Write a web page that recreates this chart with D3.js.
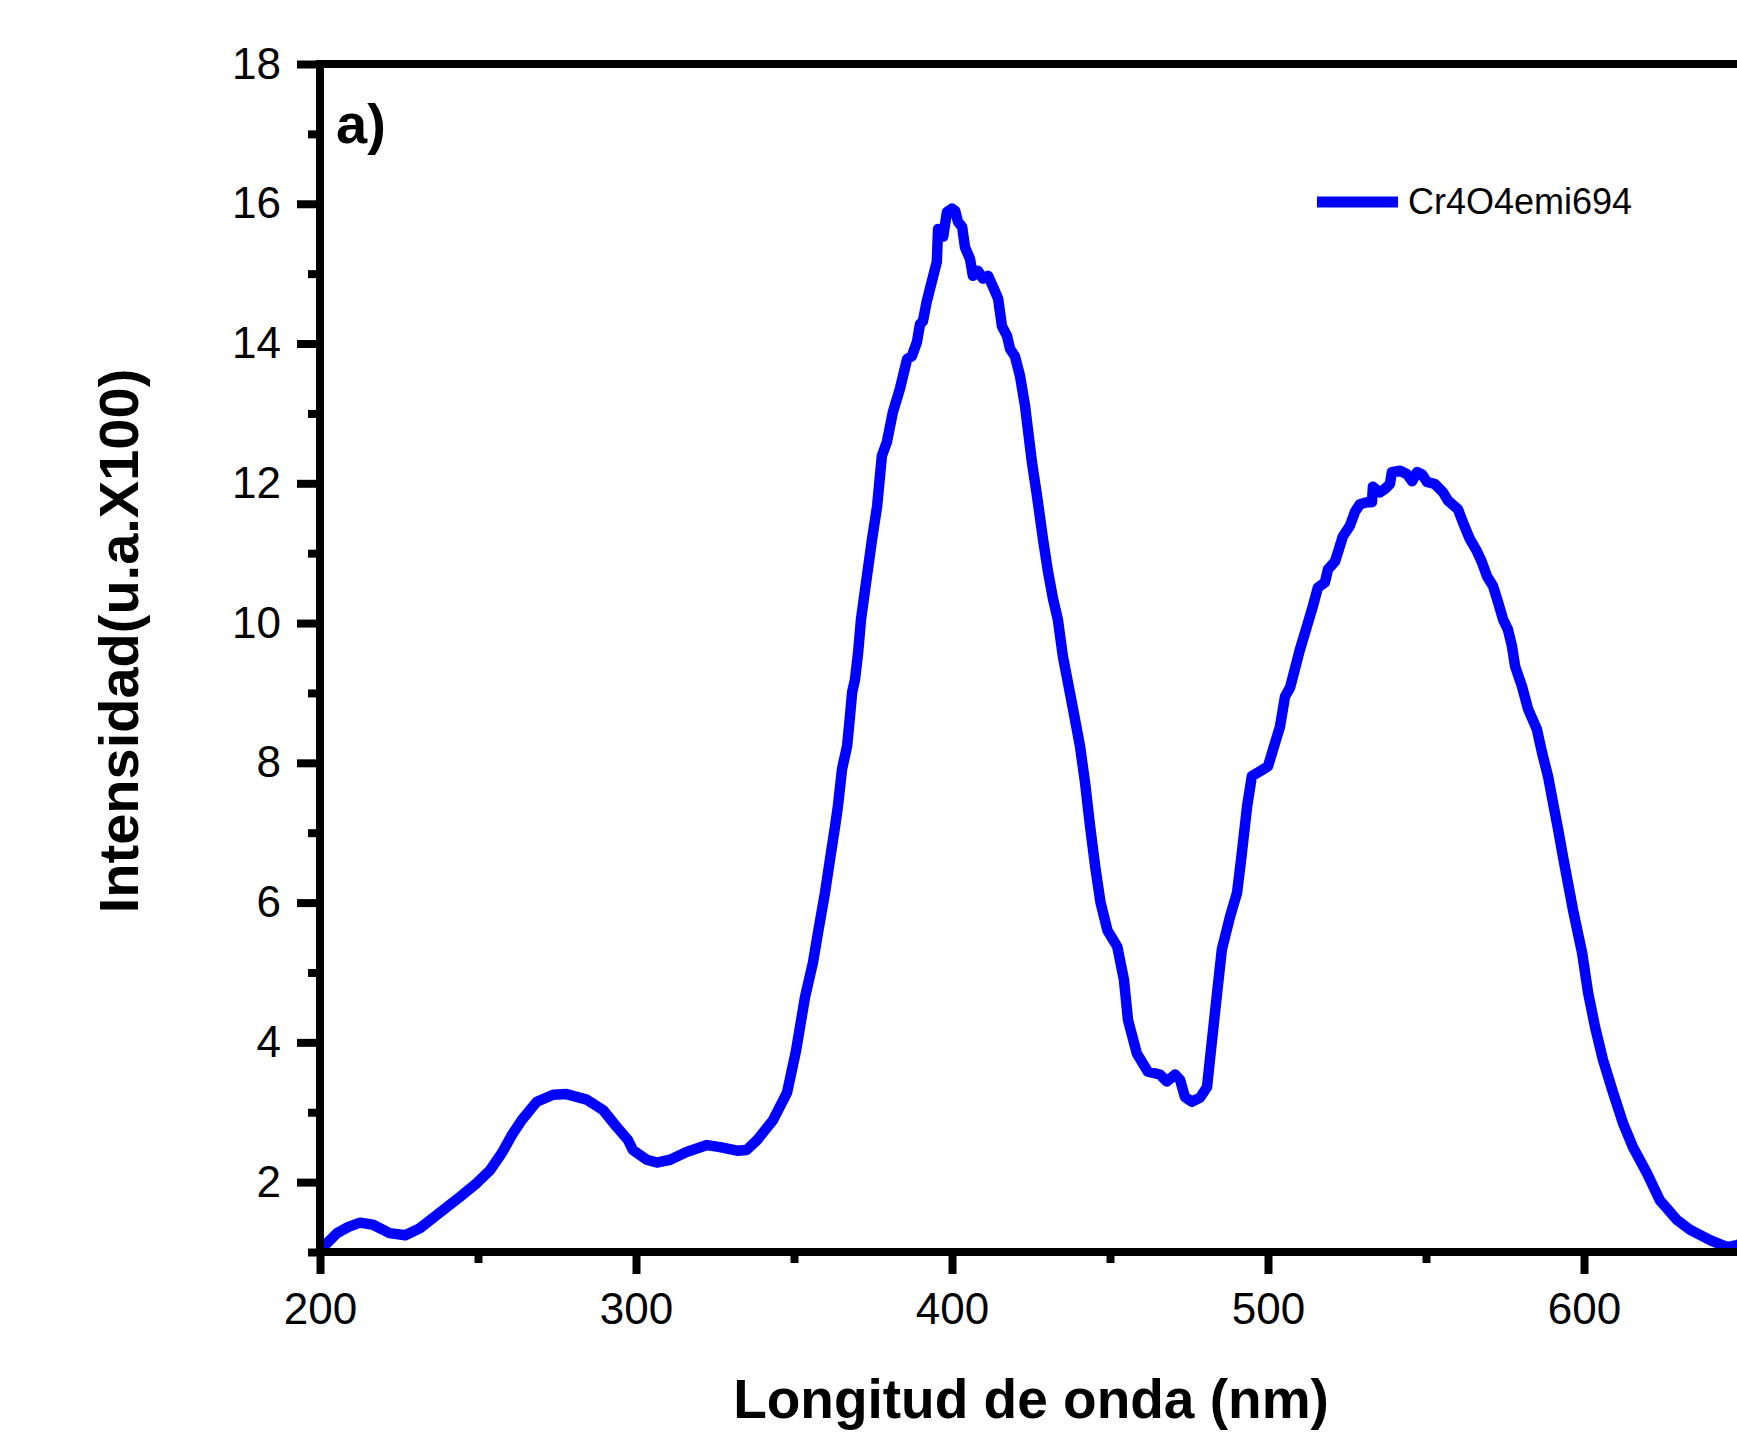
<html>
<head>
    <title>Cr4O4emi694</title>
    <script src="https://d3js.org/d3.v7.min.js"></script>
    <style>
        body { margin: 0; background: #fff; }
        svg text { font-family: "Liberation Sans", Arial, sans-serif; fill: #000; }
    </style>
</head>
<body>
<script>

    // wavelength (nm)
    var wavelength = [
        200, 201, 205.4, 209, 212.7, 216.8, 222, 227, 231.6, 237, 244.3, 249.7, 253.8, 257.6, 260.8, 263.9,
        268.6, 273.8, 278, 284.4, 289.6, 293.9, 297.5, 299, 303.4, 306.6, 310.8, 316, 322.5, 326.6, 332, 335,
        338.3, 343.4, 347.8, 350.6, 353.5, 356, 357.6, 359.8, 361.4, 363, 363.9, 365.2, 366.8, 367.7, 368.4,
        369.3, 370.3, 371.2, 372.5, 374.7, 376.3, 377.8, 379.4, 381.3, 383.5, 385.8, 387.3, 388.9, 389.9,
        390.8, 392, 395.2, 395.6, 397.2, 398.4, 400, 401, 401.9, 403.2, 404.1, 405.7, 406.6, 408.2, 409.8,
        411.4, 413, 414.6, 415.8, 417.4, 418.4, 419.9, 421.5, 423.1, 425.3, 426.9, 428.8, 430.4, 432, 433.5,
        435.1, 438.3, 440.5, 442.1, 443.7, 445.3, 447, 449.2, 452.3, 454.4, 455.7, 458.5, 462, 465.8, 468,
        470.6, 472.2, 473.7, 475.9, 478.5, 480.7, 482.3, 483.9, 485.4, 488, 490.2, 491.5, 493.4, 494.9,
        497.5, 500, 501.6, 503.8, 505.4, 507, 508.5, 510.1, 512.3, 514.2, 515.8, 518, 519, 521.2, 523.7,
        525.9, 527.5, 529.1, 531.3, 532.9, 533.2, 535.4, 537, 538.6, 539.2, 541.8, 544, 545.6, 547.2, 548.7,
        550.3, 552.8, 555.4, 557, 560.1, 561.7, 563.9, 566.1, 567.7, 569.3, 571.2, 572.8, 574.4, 575.9,
        577.2, 578.2, 580.4, 582.3, 585.1, 586.7, 588.6, 590.2, 591.8, 593.5, 596.5, 599.4, 601.3, 603.5,
        606, 609.2, 612.3, 615.5, 619.9, 624, 629.4, 633.5, 639.9, 645.3, 648.4, 650
    ];

    // intensity (u.a. x100)
    var intensity = [
        1.0, 1.07, 1.27, 1.36, 1.42, 1.39, 1.27, 1.24, 1.34, 1.53, 1.79, 1.99, 2.17, 2.42, 2.68, 2.89,
        3.15, 3.25, 3.26, 3.18, 3.03, 2.79, 2.60, 2.46, 2.32, 2.28, 2.32, 2.43, 2.53, 2.50, 2.45, 2.46,
        2.60, 2.89, 3.28, 3.87, 4.65, 5.14, 5.57, 6.14, 6.62, 7.09, 7.38, 7.91, 8.24, 8.66, 9.01,
        9.19, 9.58, 10.05, 10.48, 11.2, 11.67, 12.39, 12.59, 13.02, 13.35, 13.78, 13.82, 14.02, 14.28,
        14.32, 14.6, 15.17, 15.64, 15.53, 15.88, 15.93, 15.9, 15.74, 15.67, 15.38, 15.21, 14.97, 15.04, 14.93,
        14.97, 14.81, 14.64, 14.25, 14.11, 13.92, 13.82, 13.54, 13.11, 12.3, 11.82, 11.2, 10.73, 10.34, 10.05,
        9.52, 8.77, 8.24, 7.72, 7.09, 6.52, 6.0, 5.6, 5.37, 4.9, 4.32, 3.84, 3.58, 3.54, 3.44,
        3.54, 3.46, 3.22, 3.15, 3.21, 3.36, 4.04, 4.71, 5.33, 5.8, 6.14, 6.62, 7.38, 7.81,
        7.88, 7.95, 8.19, 8.52, 8.95, 9.08, 9.34, 9.62, 9.95, 10.24, 10.51, 10.58, 10.77, 10.88, 11.24,
        11.39, 11.59, 11.7, 11.73, 11.73, 11.95, 11.87, 11.92, 11.99, 12.16, 12.18, 12.13, 12.03, 12.16, 12.13,
        12.02, 11.99, 11.87, 11.75, 11.63, 11.44, 11.2, 11.03, 10.87, 10.67, 10.53, 10.30, 10.05, 9.91,
        9.67, 9.38, 9.09, 8.77, 8.48, 8.15, 7.81, 7.43, 7.05, 6.62, 5.90, 5.28, 4.71, 4.22,
        3.75, 3.28, 2.85, 2.50, 2.13, 1.74, 1.46, 1.32, 1.17, 1.07, 1.10, 1.12
    ];

    var xMajor = [200, 300, 400, 500, 600];
    var xMinor = [250, 350, 450, 550, 650];
    var yMajor = [2, 4, 6, 8, 10, 12, 14, 16, 18];
    var yMinor = [1, 3, 5, 7, 9, 11, 13, 15, 17];
    var seriesName = "Cr4O4emi694";

    var width = 1737,
        height = 1436;

    var svg = d3.select("body")
        .append("svg")
        .attr("width", width)
        .attr("height", height);

    // plot box runs past the right edge of the picture, like the original
    var x = d3.scaleLinear().domain([200, 650]).range([320, 1742]);
    var y = d3.scaleLinear().domain([1, 18]).range([1252, 64]);

    var data = wavelength.map(function (d, i) { return [d, intensity[i]]; });

    svg.append("defs").append("clipPath").attr("id", "clip")
        .append("rect")
        .attr("x", x(200)).attr("y", y(18))
        .attr("width", x(650) - x(200)).attr("height", y(1) - y(18) + 6);

    var line = d3.line()
        .x(function (d) { return x(d[0]); })
        .y(function (d) { return y(d[1]); });

    svg.append("path")
        .datum(data)
        .attr("clip-path", "url(#clip)")
        .attr("fill", "none")
        .attr("stroke", "#0000ff")
        .attr("stroke-width", 10.5)
        .attr("stroke-linejoin", "round")
        .attr("stroke-linecap", "round")
        .attr("d", line);

    // axes
    function styleAxis(g) {
        g.select(".domain").remove();
        g.selectAll(".tick line").attr("stroke", "#000").attr("stroke-width", 8);
        g.selectAll(".tick text").attr("font-size", 44).attr("fill", "#000")
            .attr("font-family", "'Liberation Sans', Arial, sans-serif");
    }

    svg.append("g")
        .attr("transform", "translate(0," + y(1) + ")")
        .call(d3.axisBottom(x).tickValues(xMajor).tickSize(22).tickPadding(19).tickFormat(d3.format("d")))
        .call(styleAxis);

    svg.append("g")
        .attr("transform", "translate(0," + y(1) + ")")
        .call(d3.axisBottom(x).tickValues(xMinor).tickSize(11).tickFormat(""))
        .call(styleAxis);

    svg.append("g")
        .attr("transform", "translate(" + x(200) + ",0)")
        .call(d3.axisLeft(y).tickValues(yMajor).tickSize(23).tickPadding(16).tickFormat(d3.format("d")))
        .call(styleAxis);

    svg.append("g")
        .attr("transform", "translate(" + x(200) + ",0)")
        .call(d3.axisLeft(y).tickValues(yMinor).tickSize(12).tickFormat(""))
        .call(styleAxis);

    // frame: left, bottom, top, right
    var frame = svg.append("g")
        .attr("stroke", "#000")
        .attr("stroke-width", 8)
        .attr("stroke-linecap", "square")
        .attr("fill", "none");
    frame.append("path")
        .attr("d", "M" + x(200) + "," + y(18) + "H" + x(650) + "V" + y(1) + "H" + x(200) + "Z");

    // panel label
    svg.append("text")
        .attr("x", x(200) + 16)
        .attr("y", 143)
        .attr("font-size", 56)
        .attr("font-weight", "bold")
        .text("a)");

    // legend
    var legend = svg.append("g").attr("transform", "translate(1317,202)");
    legend.append("line")
        .attr("x1", 0).attr("x2", 81)
        .attr("stroke", "#0000ff")
        .attr("stroke-width", 11);
    legend.append("text")
        .attr("x", 91)
        .attr("y", 12)
        .attr("font-size", 36)
        .text(seriesName);

    // axis titles
    svg.append("text")
        .attr("x", 1031)
        .attr("y", 1418)
        .attr("text-anchor", "middle")
        .attr("font-size", 55)
        .attr("font-weight", "bold")
        .text("Longitud de onda (nm)");

    svg.append("text")
        .attr("transform", "translate(138,641) rotate(-90)")
        .attr("text-anchor", "middle")
        .attr("font-size", 56)
        .attr("font-weight", "bold")
        .text("Intensidad(u.a.X100)");

</script>
</body>
</html>
